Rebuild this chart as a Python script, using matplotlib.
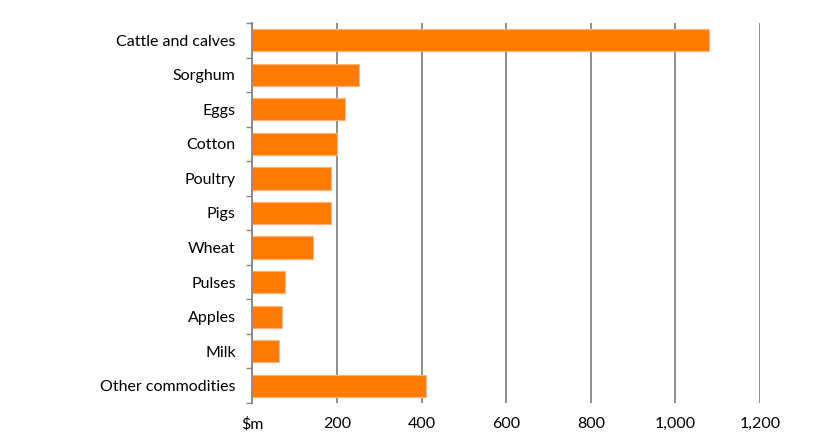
import numpy as np
import matplotlib
matplotlib.use("Agg")
import matplotlib.pyplot as plt
from matplotlib.ticker import FixedLocator

commodities = ["Cattle and calves", "Sorghum", "Eggs", "Cotton", "Poultry", "Pigs",
               "Wheat", "Pulses", "Apples", "Milk", "Other commodities"]
values = [1079, 252, 218, 200, 186, 186, 144, 77, 70, 62, 411]
xticks = [0, 200, 400, 600, 800, 1000, 1200]
xticklabels = ["$m", "200", "400", "600", "800", "1,000", "1,200"]

plt.rcParams["font.family"] = ["Lato", "DejaVu Sans"]

fig = plt.figure(figsize=(8.15, 4.45), dpi=100)
ax = fig.add_axes([0.3096, 0.0944, 0.6229, 0.8539])

y = np.arange(len(commodities))
ax.barh(y, values, height=0.64, color="#FF7C00", edgecolor="#FFB27A", linewidth=0.8, zorder=3)
ax.set_ylim(len(commodities) - 0.5, -0.5)
ax.set_xlim(0, 1200)

ax.set_yticks(y)
ax.set_yticklabels(commodities, fontsize=11.5)
ax.yaxis.set_minor_locator(FixedLocator(np.arange(-0.5, len(commodities), 1.0)))
ax.tick_params(axis="y", which="major", length=0, pad=12)
ax.tick_params(axis="y", which="minor", length=4, width=1, color="#868686", direction="out")

ax.set_xticks(xticks)
ax.set_xticklabels(xticklabels, fontsize=11.5)
ax.tick_params(axis="x", length=0, pad=10)

ax.grid(axis="x", color="#868686", linewidth=1.3, zorder=0)
for s in ["top", "right", "bottom"]:
    ax.spines[s].set_visible(False)
ax.spines["left"].set_color("#868686")
ax.spines["left"].set_linewidth(1.3)
ax.spines["left"].set_zorder(4)

fig.savefig("out.png", dpi=100)
